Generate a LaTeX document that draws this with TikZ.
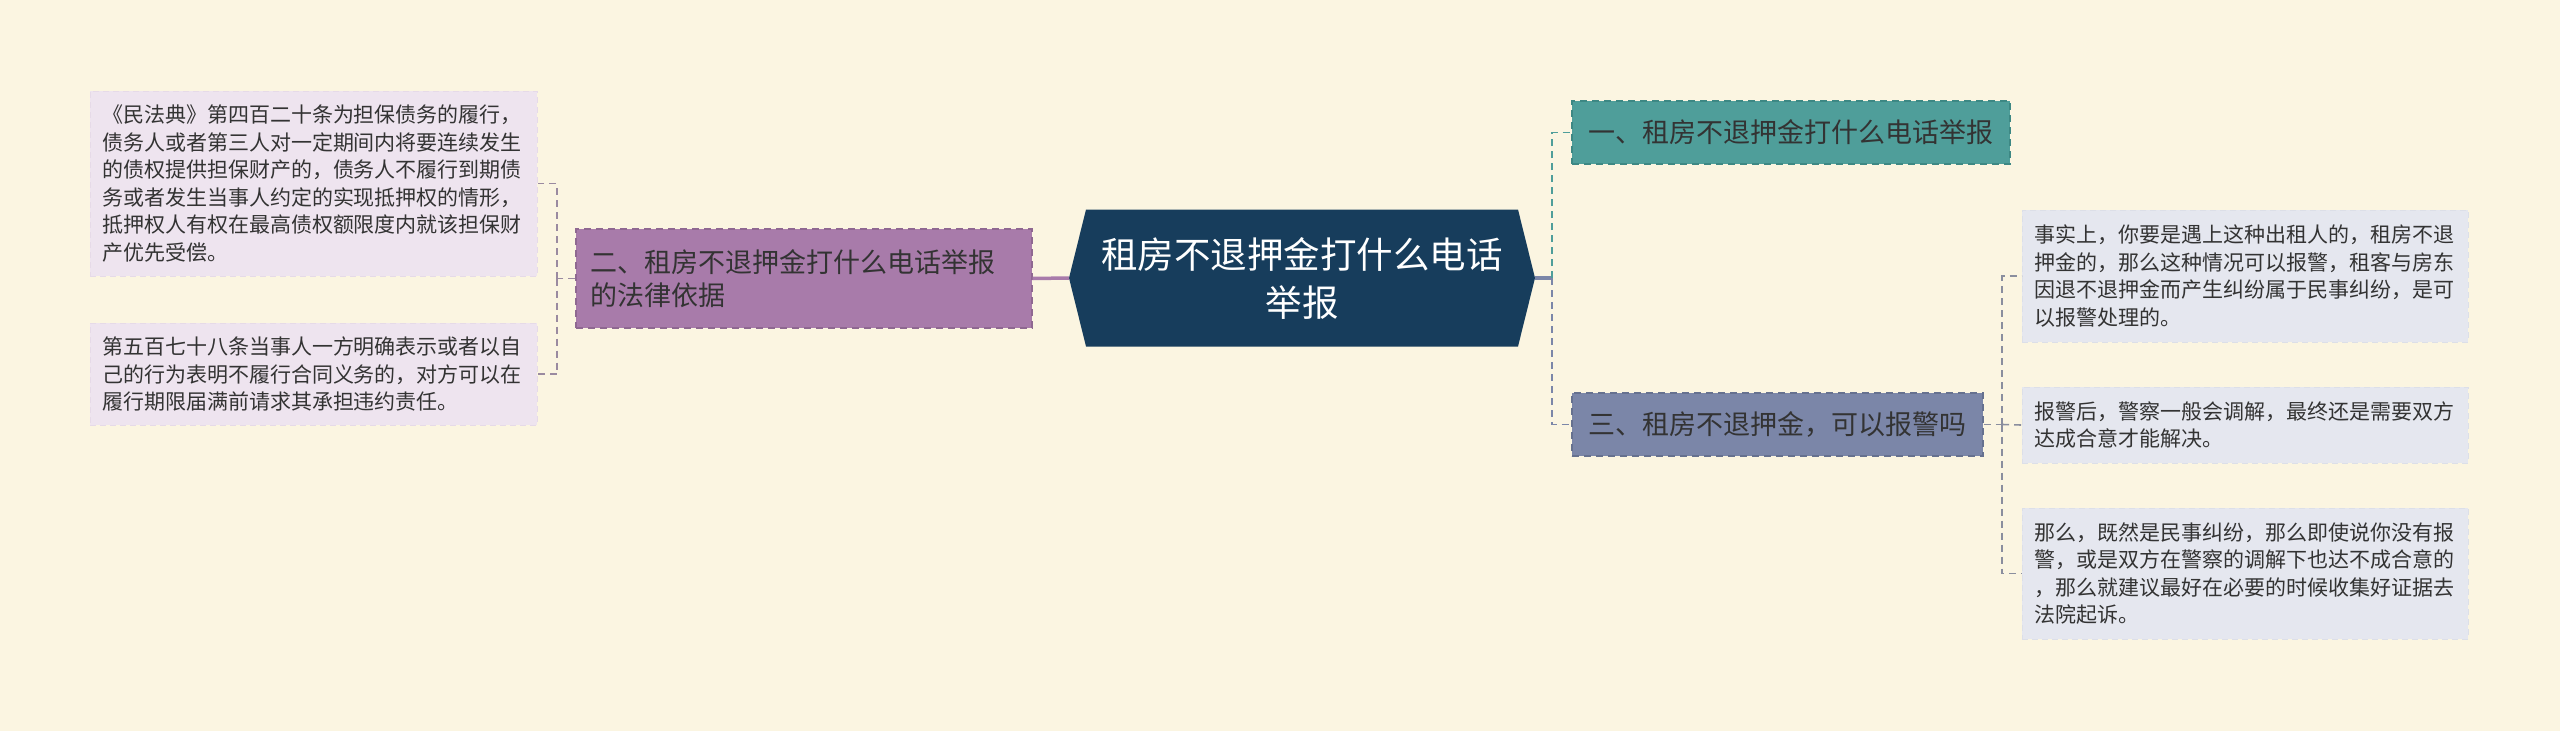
\documentclass[tikz,border=0pt]{standalone}
\usepackage{fontspec}
\setmainfont{Noto Sans CJK SC}
\definecolor{bg}{HTML}{FBF5E1}
\definecolor{navy}{HTML}{173D5C}
\definecolor{purp}{HTML}{A87BAA}
\definecolor{purpd}{HTML}{8F6891}
\definecolor{teal}{HTML}{4F9E9A}
\definecolor{teald}{HTML}{3D8884}
\definecolor{slate}{HTML}{7B86A8}
\definecolor{slated}{HTML}{66718F}
\definecolor{lleaf}{HTML}{EEE4EF}
\definecolor{lleafd}{HTML}{E6DAE8}
\definecolor{rleaf}{HTML}{E5E7EF}
\definecolor{rleafd}{HTML}{DCDFE8}
\definecolor{txt}{HTML}{333333}
\definecolor{lconn}{HTML}{9A8AA0}
\definecolor{rconn}{HTML}{8A8E9E}
\tikzset{
  dashline/.style={line width=1.6pt, dash pattern=on 7pt off 5pt},
  topicbox/.style={draw, dashline, line width=1.4pt, text=txt, inner ysep=0pt,
    font=\fontsize{27}{33}\selectfont},
  leafbox/.style={draw, line width=1pt, dash pattern=on 6pt off 4pt, text=txt, inner ysep=0pt,
    inner xsep=12pt, align=left, font=\fontsize{21}{27.5}\selectfont},
}
\begin{document}
\begin{tikzpicture}[x=1pt,y=-1pt]
\useasboundingbox (0,0) rectangle (2560,731);
\fill[bg] (0,0) rectangle (2560,731);

% central
\coordinate (cl) at (1069,278);
\coordinate (cr) at (1535,278);
\fill[navy] (1086,209.5) -- (1518,209.5) -- (cr) -- (1518,346.5) -- (1086,346.5) -- (cl) -- cycle;
\node[minimum width=432pt, minimum height=137pt, inner sep=0pt, align=center, text=white,
  font=\fontsize{36.5}{48}\selectfont] (c) at (1302,278) {租房不退押金打什么电话\\举报};

% left topic
\node[topicbox, fill=purp, draw=purpd, minimum width=456pt, minimum height=99pt, text width=428pt,
  inner xsep=14pt, align=left] (p) at (804,278.5) {二、租房不退押金打什么电话举报\\的法律依据};

% left leaves
\node[leafbox, fill=lleaf, draw=lleafd, minimum width=447pt, minimum height=185pt, text width=423pt]
  (l1) at (313.5,183.5) {《民法典》第四百二十条为担保债务的履行，\\债务人或者第三人对一定期间内将要连续发生\\的债权提供担保财产的，债务人不履行到期债\\务或者发生当事人约定的实现抵押权的情形，\\抵押权人有权在最高债权额限度内就该担保财\\产优先受偿。};
\node[leafbox, fill=lleaf, draw=lleafd, minimum width=447pt, minimum height=102pt, text width=423pt]
  (l2) at (313.5,374) {第五百七十八条当事人一方明确表示或者以自\\己的行为表明不履行合同义务的，对方可以在\\履行期限届满前请求其承担违约责任。};

% right topics
\node[topicbox, fill=teal, draw=teald, minimum width=438pt, minimum height=63pt] (t1) at (1791,132.5) {一、租房不退押金打什么电话举报};
\node[topicbox, fill=slate, draw=slated, minimum width=411pt, minimum height=63pt] (t3) at (1777.5,424.5) {三、租房不退押金，可以报警吗};

% right leaves
\node[leafbox, fill=rleaf, draw=rleafd, minimum width=446pt, minimum height=132pt, text width=422pt]
  (r1) at (2245,276) {事实上，你要是遇上这种出租人的，租房不退\\押金的，那么这种情况可以报警，租客与房东\\因退不退押金而产生纠纷属于民事纠纷，是可\\以报警处理的。};
\node[leafbox, fill=rleaf, draw=rleafd, minimum width=446pt, minimum height=76pt, text width=422pt]
  (r2) at (2245,425) {报警后，警察一般会调解，最终还是需要双方\\达成合意才能解决。};
\node[leafbox, fill=rleaf, draw=rleafd, minimum width=446pt, minimum height=131pt, text width=422pt]
  (r3) at (2245,573.5) {那么，既然是民事纠纷，那么即使说你没有报\\警，或是双方在警察的调解下也达不成合意的\\，那么就建议最好在必要的时候收集好证据去\\法院起诉。};

% connectors
\coordinate (jl) at (557,278.5);
\coordinate (jr) at (1552,278);
\coordinate (jr3) at (2002,424.5);
\draw[purp, line width=3.5pt] (cl) -- (p.east);
\draw[lconn, dashline] (p.west) -- (jl);
\draw[lconn, dashline] (jl) |- (l1.east);
\draw[lconn, dashline] (jl) |- (l2.east);
\draw[slate, line width=3.5pt] (cr) -- (jr);
\draw[teal, dashline] (jr) |- (t1.west);
\draw[slate, dashline] (jr) |- (t3.west);
\draw[rconn, dashline] (t3.east) -- (jr3);
\draw[rconn, dashline] (jr3) |- (r1.west);
\draw[rconn, dashline] (jr3) -- (r2.west);
\draw[rconn, dashline] (jr3) |- (r3.west);
\end{tikzpicture}
\end{document}
